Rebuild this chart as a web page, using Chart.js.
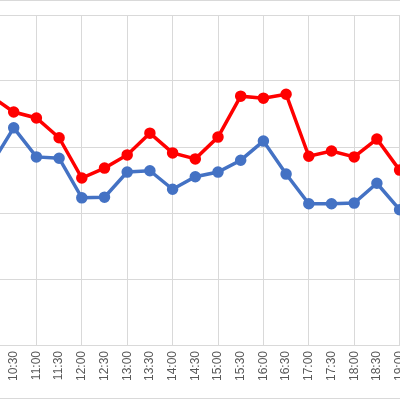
<!DOCTYPE html>
<html>
<head>
<meta charset="utf-8">
<script src="https://cdn.jsdelivr.net/npm/chart.js@4"></script>
<style>
  body { margin: 0; background: #fff; overflow: hidden; }
  #wrap { position: absolute; left: -40px; top: 0; width: 460px; height: 400px; }
  .frame { position: absolute; left: 0; width: 400px; height: 0; border-top: 1px solid #d9d9d9; }
</style>
</head>
<body>
<div id="wrap"><canvas id="lineChart"></canvas></div>
<div class="frame" style="top:0"></div>
<div class="frame" style="top:398px"></div>
<script>
// time slots (half hours)
var timeLabels = ['10:00', '10:30', '11:00', '11:30', '12:00', '12:30', '13:00', '13:30', '14:00',
  '14:30', '15:00', '15:30', '16:00', '16:30', '17:00', '17:30', '18:00', '18:30', '19:00'];

var redValues = [37.7, 35.3, 34.4, 31.4, 25.3, 26.8, 28.8, 32.1, 29.1, 28.2, 31.5, 37.7, 37.4, 38.0,
  28.6, 29.4, 28.5, 31.2, 26.5];
var blueValues = [27.3, 32.9, 28.5, 28.3, 22.3, 22.4, 26.2, 26.4, 23.6, 25.5, 26.2, 28.0, 30.9, 25.9,
  21.4, 21.4, 21.5, 24.5, 20.5];

var gridGrey = '#d9d9d9';

new Chart(document.getElementById('lineChart').getContext('2d'), {
  type: 'line',
  data: {
    labels: timeLabels,
    datasets: [{
      data: redValues,
      borderColor: '#ff0000',
      backgroundColor: '#ff0000',
      borderWidth: 3.5,
      pointRadius: 4,
      tension: 0
    }, {
      data: blueValues,
      borderColor: '#4472c4',
      backgroundColor: '#4472c4',
      borderWidth: 3.5,
      pointRadius: 4,
      tension: 0
    }]
  },
  options: {
    responsive: true,
    maintainAspectRatio: false,
    animation: false,
    layout: { padding: { left: 31, right: 20, top: 15, bottom: 0 } },
    plugins: { legend: { display: false }, tooltip: { enabled: false } },
    scales: {
      x: {
        offset: false,
        afterFit: function(scale) { scale.height = 55; },
        grid: {
          color: function(ctx) { return ctx.index % 2 === 0 ? gridGrey : 'rgba(0,0,0,0)'; },
          drawTicks: false
        },
        border: { color: gridGrey },
        ticks: {
          autoSkip: false,
          minRotation: 90,
          maxRotation: 90,
          padding: 6,
          color: '#595959',
          font: { family: 'Liberation Sans', size: 12 }
        }
      },
      y: {
        min: 0,
        max: 50,
        afterFit: function(scale) { scale.width = 0; },
        ticks: { display: false, stepSize: 10 },
        grid: { color: gridGrey, drawTicks: false },
        border: { display: false }
      }
    }
  }
});
</script>
</body>
</html>
